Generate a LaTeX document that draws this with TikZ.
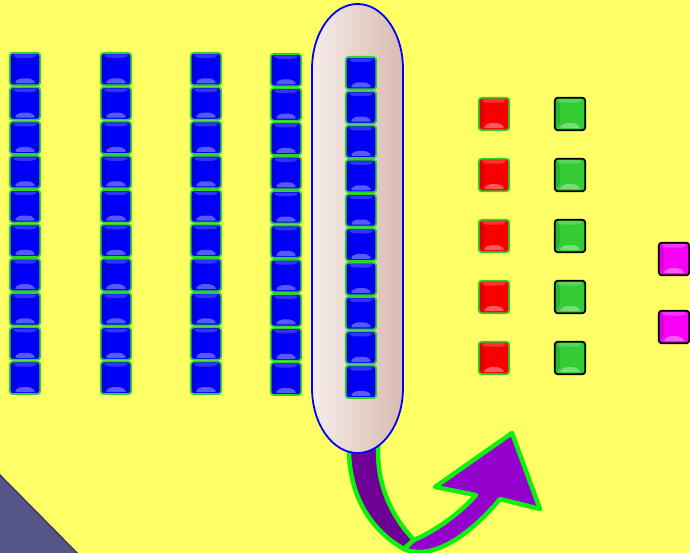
\documentclass[tikz,border=0pt]{standalone}
\usetikzlibrary{positioning,calc}
\definecolor{lemonbg}{HTML}{FFFF66}
\definecolor{slatepop}{HTML}{555588}
\definecolor{slatedark}{HTML}{3B3B6E}
\definecolor{cubeblue}{HTML}{0000F8}
\definecolor{rimgreen}{HTML}{2CD42C}
\definecolor{cubered}{HTML}{F80000}
\definecolor{cubegreen}{HTML}{33CC33}
\definecolor{cubepink}{HTML}{F800F8}
\definecolor{ovalleft}{HTML}{F6ECEA}
\definecolor{ovalright}{HTML}{D9BBB0}
\definecolor{plumdark}{HTML}{6E0096}
\definecolor{plumlight}{HTML}{9400CC}
\definecolor{limepop}{HTML}{10F010}

\begin{document}
\begin{tikzpicture}[x=1pt,y=1pt,
  cube/.style={rectangle, rounded corners=3pt, inner sep=0pt, minimum width=30.5pt, minimum height=32.5pt, line width=1.8pt,
    path picture={
      \fill[white,opacity=.35] ([xshift=4pt,yshift=2pt]path picture bounding box.south west) -- ([xshift=-4pt,yshift=2pt]path picture bounding box.south east) -- ([xshift=-9pt,yshift=7pt]path picture bounding box.south east) -- ([xshift=9pt,yshift=7pt]path picture bounding box.south west) -- cycle;
      \fill[white,opacity=.2] ([xshift=2pt,yshift=-1.5pt]path picture bounding box.north west) -- ([xshift=-2pt,yshift=-1.5pt]path picture bounding box.north east) -- ([xshift=-6pt,yshift=-5pt]path picture bounding box.north east) -- ([xshift=6pt,yshift=-5pt]path picture bounding box.north west) -- cycle;
      \fill[black,opacity=.12] ([yshift=2pt]path picture bounding box.south west) -- ([xshift=5pt,yshift=6pt]path picture bounding box.south west) -- ([xshift=5pt,yshift=-5pt]path picture bounding box.north west) -- ([yshift=-2pt]path picture bounding box.north west) -- cycle;
    }},
  bluecube/.style={cube, fill=cubeblue, draw=rimgreen},
  redcube/.style={cube, fill=cubered, draw=rimgreen},
  greencube/.style={cube, fill=cubegreen, draw=black},
  pinkcube/.style={cube, fill=cubepink, draw=black},
  twist/.style={line width=4.5pt, draw=limepop, line join=round}]
\clip (0,0) rectangle (690,553);
\fill[lemonbg] (0,0) rectangle (690,553);
% corner wedge
\draw[fill=slatepop, draw=slatedark, line width=1.5pt] (-2,80) -- (79,-2) -- (-2,-2) -- cycle;

% curved arrow, behind the oval
\draw[twist, fill=plumdark] (349,130) -- (349,101) .. controls (350,55) and (372,22) .. (404,4) -- (414,13) .. controls (393,35) and (378,65) .. (378,101) -- (378,130);
\draw[twist, fill=plumlight] (414,13) .. controls (437,23) and (460,40) .. (476,58) -- (435,66) -- (512,120) -- (540,44) -- (500,54) .. controls (480,30) and (450,3) .. (422,1) .. controls (414,1) and (408,2) .. (404,4) -- cycle;

% oval round the fifth column
\draw[left color=ovalleft, right color=ovalright, draw=blue, line width=1.8pt] (312,165) -- (312,484) arc[start angle=180, end angle=0, x radius=45.5, y radius=65] -- (403,165) arc[start angle=0, end angle=-180, x radius=45.5, y radius=65] -- cycle;

% ten-columns
\foreach \c/\x/\top in {1/25/501,2/116/501,3/206/501,4/286/500,5/361/497} {
  \foreach \r in {1,...,10} {
    \node[bluecube] (col\c-\r) at (\x,\top-34.3*\r+17.15) {};
  }
}

% ones
\foreach \r/\y in {1/439,2/378,3/317,4/256,5/195} {
  \node[redcube] (red\r) at (494,\y) {};
  \node[greencube] (green\r) at (570,\y) {};
}
\node[pinkcube] (pink1) at (674,294) {};
\node[pinkcube] (pink2) at (674,226) {};
\end{tikzpicture}
\end{document}
